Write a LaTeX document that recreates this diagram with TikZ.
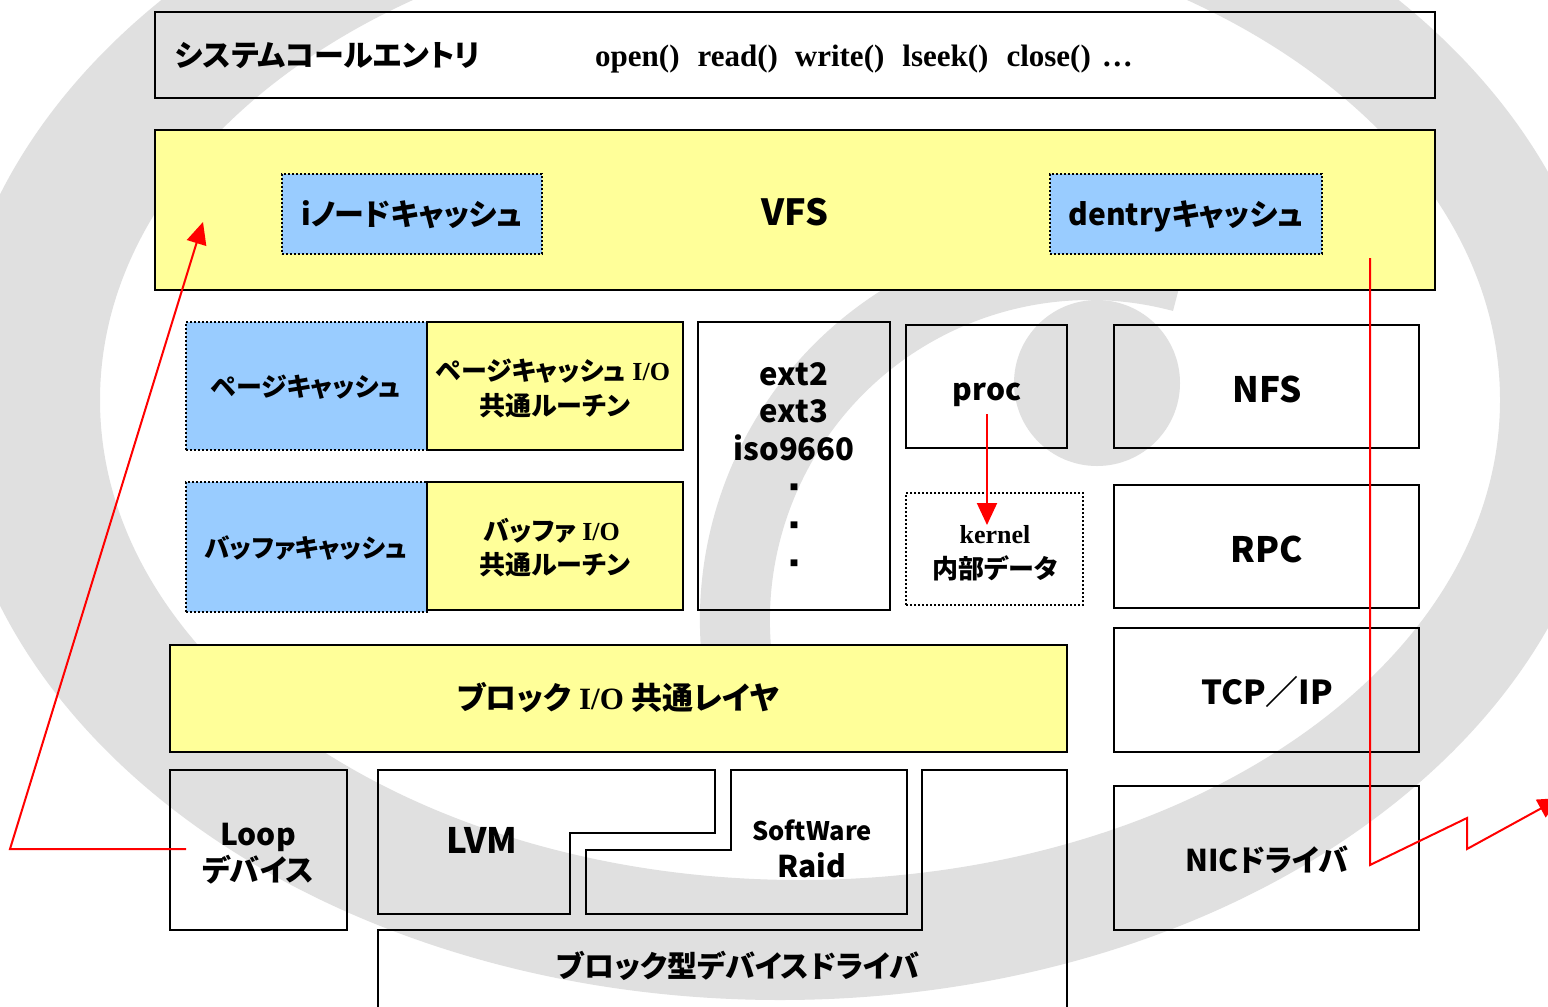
\documentclass[tikz,border=0pt]{standalone}
\usepackage{fontspec}
\usetikzlibrary{arrows.meta}
\newfontfamily\jp[RawFeature=+palt]{Noto Sans CJK JP}
\newfontfamily\tm{Liberation Serif}
\definecolor{yfill}{HTML}{FFFF99}
\definecolor{bfill}{HTML}{99CCFF}
\definecolor{wmgray}{RGB}{224,224,224}
\newcommand{\jfs}[1]{\jp\bfseries\fontsize{#1}{#1}\selectfont}
\tikzset{
  bx/.style={draw=black, line width=2.5pt, inner sep=0pt},
  yel/.style={bx, fill=yfill},
  dotbox/.style={draw=black, line width=2pt, dash pattern=on 2pt off 2pt, inner sep=0pt},
  blu/.style={dotbox, fill=bfill},
  lbl/.style={inner sep=0pt, anchor=base},
  jt/.style={lbl, font=\jfs{30}},
  jts/.style={lbl, font=\jfs{26}},
  dotlbl/.style={lbl, font=\jp\fontsize{8.5}{8.5}\selectfont},
  rline/.style={draw=red, line width=2pt},
  rarrow/.style={rline, -{Triangle[length=22pt,width=20pt]}},
  wm/.style={fill=wmgray}
}
\begin{document}
\begin{tikzpicture}[x=1pt,y=-1pt]
\useasboundingbox (0,0) rectangle (1548,1007);
\fill[white] (0,0) rectangle (1548,1007);
% watermark
\fill[wm, even odd rule] (780,400) ellipse [x radius=830pt, y radius=600pt]
  (800,400) ellipse [x radius=700pt, y radius=480pt];
\fill[white] (1548,765) .. controls (1460,810) and (1360,900) .. (1290,1007) -- (1548,1007) -- cycle;
\fill[wm] (1097,383) circle [radius=83pt];
\draw[draw=wmgray, line width=70pt] (1090,620) ++(200:355pt) arc[start angle=200, end angle=75, radius=355pt];

% system call box
\node[bx, minimum width=1280pt, minimum height=86pt] (sys) at (795,55) {};
\node[jt, anchor=base west] (sysT) at (175,66) {システムコールエントリ};
\node[lbl, anchor=base west, font=\tm\bfseries\fontsize{31}{31}\selectfont] (calls) at (595,66)
  {open()\hspace{18pt}read()\hspace{17pt}write()\hspace{18pt}lseek()\hspace{18pt}close()\hspace{11pt}…};

% VFS
\node[yel, minimum width=1280pt, minimum height=160pt] (vfs) at (795,210) {};
\node[lbl, font=\jfs{36}] (vfsT) at (795,225) {VFS};
\node[blu, minimum width=260pt, minimum height=80pt] (inode) at (412,214) {};
\node[jt] (inodeT) at (412,225) {iノードキャッシュ};
\node[blu, minimum width=272pt, minimum height=80pt] (dentry) at (1186,214) {};
\node[jt] (dentryT) at (1186,225) {dentryキャッシュ};

% page / buffer cache
\node[blu, minimum width=241pt, minimum height=128pt] (pc) at (306.5,386) {};
\node[jts] (pcT) at (306,396) {ページキャッシュ};
\node[yel, minimum width=256pt, minimum height=128pt] (pcio) at (555,386) {};
\node[jts] (pcioT1) at (553,380) {ページキャッシュ{\tm\bfseries\ I/O}};
\node[jts] (pcioT2) at (555,415) {共通ルーチン};
\node[blu, minimum width=241pt, minimum height=130pt] (bc) at (306.5,547) {};
\node[lbl, font=\jfs{25.5}] (bcT) at (306,557) {バッファキャッシュ};
\node[yel, minimum width=256pt, minimum height=128pt] (bcio) at (555,546) {};
\node[jts] (bcioT1) at (552,540) {バッファ{\tm\bfseries\ I/O}};
\node[jts] (bcioT2) at (555,574) {共通ルーチン};

% ext2 column
\node[bx, minimum width=192pt, minimum height=288pt] (ext) at (794,466) {};
\node[lbl, font=\jfs{31}] (e1) at (794,385) {ext2};
\node[lbl, font=\jfs{31}] (e2) at (794,422) {ext3};
\node[lbl, font=\jfs{31}] (e3) at (794,460) {iso9660};
\node[dotlbl] (d1) at (794,490) {■};
\node[dotlbl] (d2) at (794,528) {■};
\node[dotlbl] (d3) at (794,566) {■};

% proc and kernel data
\node[bx, minimum width=161pt, minimum height=123pt] (proc) at (986.5,386.5) {};
\node[jt] (procT) at (987,400) {proc};
\node[dotbox, minimum width=177pt, minimum height=112pt] (kern) at (994.5,549) {};
\node[lbl, font=\tm\bfseries\fontsize{26}{26}\selectfont] (kernT1) at (995,543) {kernel};
\node[jts] (kernT2) at (995,578) {内部データ};

% network stack
\node[bx, minimum width=305pt, minimum height=123pt] (nfs) at (1266.5,386.5) {};
\node[lbl, font=\jfs{35}] (nfsT) at (1267,402) {NFS};
\node[bx, minimum width=305pt, minimum height=123pt] (rpc) at (1266.5,546.5) {};
\node[lbl, font=\jfs{35}] (rpcT) at (1267,562) {RPC};
\node[bx, minimum width=305pt, minimum height=124pt] (tcp) at (1266.5,690) {};
\node[lbl, font=\jfs{33}] (tcpT) at (1267,704) {TCP／IP};
\node[bx, minimum width=305pt, minimum height=144pt] (nic) at (1266.5,858) {};
\node[jt] (nicT) at (1267,871) {NICドライバ};

% block I/O layer
\node[yel, minimum width=897pt, minimum height=107pt] (blk) at (618.5,698.5) {};
\node[lbl, font=\jfs{31}] (blkT) at (618,709) {ブロック\hspace{8pt}{\tm\bfseries I/O}\hspace{8pt}共通レイヤ};

% loop device
\node[bx, minimum width=177pt, minimum height=160pt] (loop) at (258.5,850) {};
\node[jt] (loopT1) at (258,845) {Loop};
\node[jt] (loopT2) at (258,881) {デバイス};

% LVM / RAID / block device driver
\draw[bx, line join=miter] (378,770) -- (715,770) -- (715,833) -- (570,833) -- (570,914) -- (378,914) -- cycle;
\node[lbl, font=\jfs{35}] (lvmT) at (482,853) {LVM};
\draw[bx, line join=miter] (731,770) -- (907,770) -- (907,914) -- (586,914) -- (586,850) -- (731,850) -- cycle;
\node[lbl, font=\jfs{25.5}] (raidT1) at (812,840) {SoftWare};
\node[jt] (raidT2) at (812,877) {Raid};
\draw[bx, line join=miter] (378,1012) -- (378,930) -- (922,930) -- (922,770) -- (1067,770) -- (1067,1012);
\node[jt] (bddT) at (738,977) {ブロック型デバイスドライバ};

% red arrows
\coordinate (loopStart) at (186,849);
\coordinate (leftCorner) at (10,849);
\coordinate (vfsEnd) at (203,222);
\draw[rarrow] (loopStart) -- (leftCorner) -- (vfsEnd);

\coordinate (procStart) at (987,414);
\coordinate (kernEnd) at (987,525);
\draw[rarrow] (procStart) -- (kernEnd);

\coordinate (dentStart) at (1370,258);
\coordinate (nicTurn) at (1370,865);
\coordinate (zig1) at (1467,818);
\coordinate (zig2) at (1467,849);
\coordinate (outEnd) at (1560,798);
\draw[rarrow] (dentStart) -- (nicTurn) -- (zig1) -- (zig2) -- (outEnd);
\end{tikzpicture}
\end{document}
